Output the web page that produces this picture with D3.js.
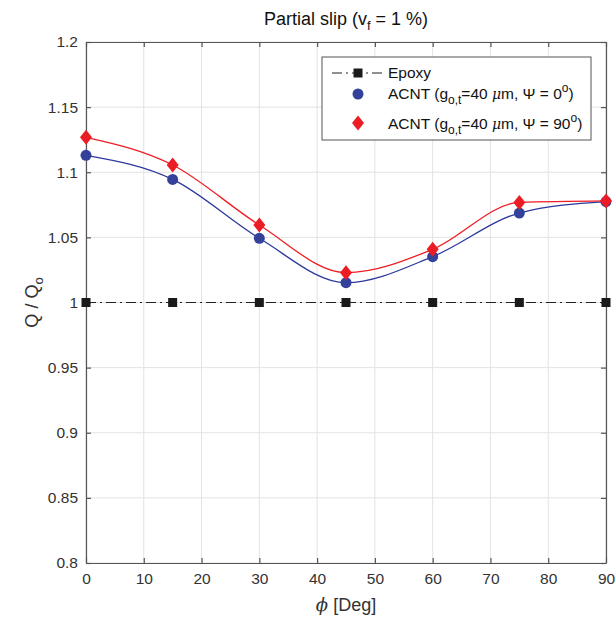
<!DOCTYPE html>
<html><head><meta charset="utf-8">
<script src="https://cdn.jsdelivr.net/npm/d3@7"></script>
<style>
body{margin:0;background:#fff;}
text{font-family:"Liberation Sans",Arial,Helvetica,sans-serif;}
</style></head>
<body><svg id="c" width="616" height="619"></svg>
<script>
const phi = [0, 15, 30, 45, 60, 75, 90];
const epoxy = [1, 1, 1, 1, 1, 1, 1];
const acnt0 = [1.113, 1.0945, 1.0493, 1.0152, 1.0352, 1.0687, 1.0775];
const acnt90 = [1.1268, 1.1056, 1.0595, 1.0229, 1.0408, 1.0768, 1.078];
const xTicks = [0,10,20,30,40,50,60,70,80,90];
const yTicks = [0.8,0.85,0.9,0.95,1,1.05,1.1,1.15,1.2];

const svg = d3.select("#c");
const L=86, R=606, T=42, B=563;
const x = d3.scaleLinear().domain([0,90]).range([L,R]);
const y = d3.scaleLinear().domain([0.8,1.2]).range([B,T]);

// grid
const g = svg.append("g");
g.selectAll(".vx").data(xTicks).enter().append("line")
 .attr("x1",d=>x(d)).attr("x2",d=>x(d)).attr("y1",T).attr("y2",B)
 .attr("stroke","#e3e3e3").attr("stroke-width",1);
g.selectAll(".hy").data(yTicks).enter().append("line")
 .attr("y1",d=>y(d)).attr("y2",d=>y(d)).attr("x1",L).attr("x2",R)
 .attr("stroke","#e3e3e3").attr("stroke-width",1);

// axes
const fmt = d=>d3.format("")(+d.toFixed(2));
const axB = svg.append("g").attr("transform",`translate(0,${B})`)
 .call(d3.axisBottom(x).tickValues(xTicks).tickSizeInner(-5).tickSizeOuter(0).tickPadding(10).tickFormat(fmt));
const axT = svg.append("g").attr("transform",`translate(0,${T})`)
 .call(d3.axisTop(x).tickValues(xTicks).tickSizeInner(-5).tickSizeOuter(0).tickFormat(""));
const axL = svg.append("g").attr("transform",`translate(${L},0)`)
 .call(d3.axisLeft(y).tickValues(yTicks).tickSizeInner(-5).tickSizeOuter(0).tickPadding(8).tickFormat(fmt));
const axR = svg.append("g").attr("transform",`translate(${R},0)`)
 .call(d3.axisRight(y).tickValues(yTicks).tickSizeInner(-5).tickSizeOuter(0).tickFormat(""));
[axB,axT,axL,axR].forEach(a=>{
  a.selectAll("path,line").attr("stroke","#555").attr("stroke-width",1.2);
  a.selectAll("text").attr("fill","#333").style("font-size","15.5px").style("font-family","'Liberation Sans',Arial,sans-serif");
});

// lines
const lineGen = d3.line().x(d=>x(d[0])).y(d=>y(d[1]));
const smooth = d3.line().curve(d3.curveMonotoneX).x(d=>x(d[0])).y(d=>y(d[1]));
svg.append("path").datum(phi.map((p,i)=>[p,epoxy[i]])).attr("d",lineGen)
 .attr("fill","none").attr("stroke","#222").attr("stroke-width",1.2).attr("stroke-dasharray","10,4,2,4");
svg.append("path").datum(phi.map((p,i)=>[p,acnt0[i]])).attr("d",smooth)
 .attr("fill","none").attr("stroke","#2b3a9c").attr("stroke-width",1.3);
svg.append("path").datum(phi.map((p,i)=>[p,acnt90[i]])).attr("d",smooth)
 .attr("fill","none").attr("stroke","#f01c24").attr("stroke-width",1.3);

// markers
const sq = 9;
svg.selectAll(".sq").data(phi).enter().append("rect")
 .attr("x",(d)=>x(d)-sq/2).attr("y",(d,i)=>y(epoxy[i])-sq/2).attr("width",sq).attr("height",sq).attr("fill","#1a1a1a");
svg.selectAll(".ci").data(phi).enter().append("circle")
 .attr("cx",d=>x(d)).attr("cy",(d,i)=>y(acnt0[i])).attr("r",5.5).attr("fill","#34419a");
const diamond = (cx,cy)=>`M${cx},${cy-7.5}L${cx+6},${cy}L${cx},${cy+7.5}L${cx-6},${cy}Z`;
svg.selectAll(".di").data(phi).enter().append("path")
 .attr("d",(d,i)=>diamond(x(d),y(acnt90[i]))).attr("fill","#ec1c24");

// title
const title = svg.append("text").attr("x",346).attr("y",25).attr("text-anchor","middle")
 .attr("fill","#111").style("font-size","18px");
title.append("tspan").text("Partial slip (v");
title.append("tspan").attr("dy",5).style("font-size","13px").text("f");
title.append("tspan").attr("dy",-5).text(" = 1 %)");

// x label
const xl = svg.append("text").attr("x",346).attr("y",611).attr("text-anchor","middle").attr("fill","#333").style("font-size","18px");
xl.append("tspan").style("font-style","italic").style("font-family","'DejaVu Serif',serif").text("ϕ");
xl.append("tspan").text(" [Deg]");

// y label
const yl = svg.append("text").attr("transform",`translate(38,${(T+B)/2}) rotate(-90)`).attr("text-anchor","middle").attr("fill","#333").style("font-size","18px");
yl.append("tspan").text("Q / Q");
yl.append("tspan").attr("dy",5).style("font-size","13px").text("o");

// legend
const lg = svg.append("g");
lg.append("rect").attr("x",322).attr("y",57).attr("width",269).attr("height",83)
 .attr("fill","#fff").attr("stroke","#555").attr("stroke-width",1);
lg.append("line").attr("x1",332).attr("x2",382).attr("y1",73).attr("y2",73)
 .attr("stroke","#222").attr("stroke-width",1.2).attr("stroke-dasharray","10,4,2,4");
lg.append("rect").attr("x",358-4.5).attr("y",73-4.5).attr("width",9).attr("height",9).attr("fill","#1a1a1a");
lg.append("circle").attr("cx",358).attr("cy",94).attr("r",5.5).attr("fill","#34419a");
lg.append("path").attr("d",diamond(358,123)).attr("fill","#ec1c24");
const fs="15.5px";
lg.append("text").attr("x",388).attr("y",78).attr("fill","#111").style("font-size",fs).text("Epoxy");
function acntLabel(yy, ang){
  const t = lg.append("text").attr("x",388).attr("y",yy).attr("fill","#111").style("font-size",fs);
  t.append("tspan").text("ACNT (g");
  t.append("tspan").attr("dy",5).style("font-size","12px").text("o,t");
  t.append("tspan").attr("dy",-5).text("=40 ");
  t.append("tspan").style("font-style","italic").style("font-family","'DejaVu Serif',serif").style("font-size","14px").text("μ");
  t.append("tspan").text("m, Ψ = "+ang);
  t.append("tspan").attr("dy",-7).style("font-size","12px").text("o");
  t.append("tspan").attr("dy",7).text(")");
}
acntLabel(99,"0");
acntLabel(129,"90");
</script></body></html>
